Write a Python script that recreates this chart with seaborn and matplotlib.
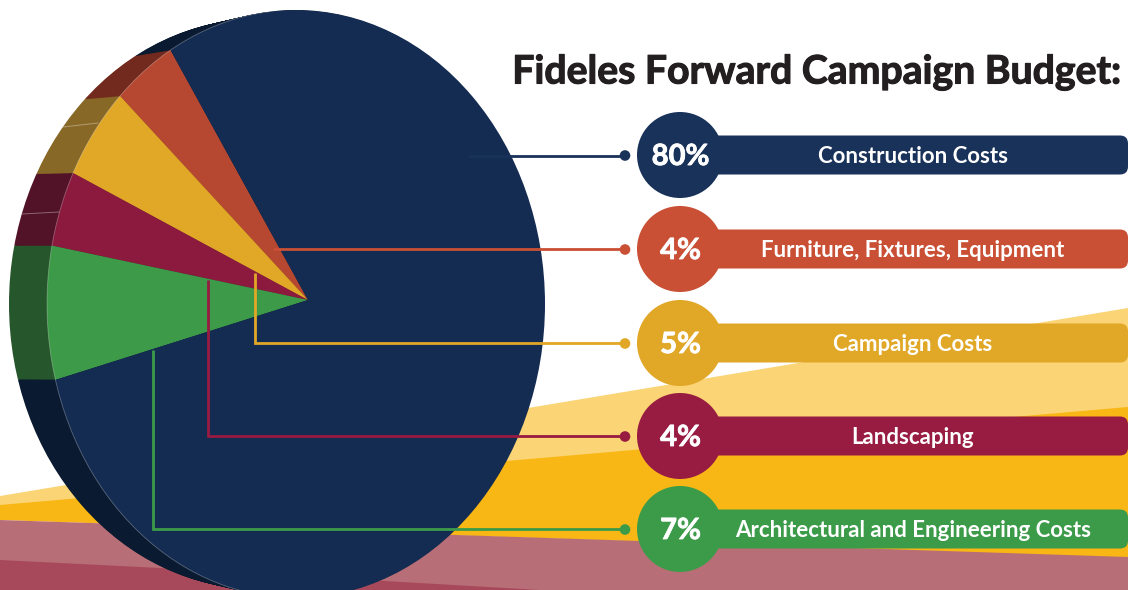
import matplotlib
matplotlib.use("Agg")
import matplotlib.pyplot as plt
import matplotlib.patheffects as pe
from matplotlib.patches import Arc, Circle, Ellipse, FancyBboxPatch
import seaborn as sns

sns.set_theme(style="white")
plt.rcParams['font.family'] = ['Lato', 'DejaVu Sans']

W, H = 1128, 590
title = "Fideles Forward Campaign Budget:"

# pie order: counter-clockwise from the upper-left edge of the red slice
pie_values = [4, 5, 4, 7, 80]
pie_colors = ["#B64831", "#E1A726", "#8B1A3E", "#3D9A48", "#152C52"]
side_colors = ["#722A1E", "#876826", "#521227", "#26562B", "#0A1A30"]

# legend order, top to bottom
legend_labels = ["Construction Costs", "Furniture, Fixtures, Equipment", "Campaign Costs",
                 "Landscaping", "Architectural and Engineering Costs"]
legend_values = [80, 4, 5, 4, 7]
legend_colors = ["#19325A", "#C94F35", "#E1A726", "#981B42", "#3C9B49"]
legend_y = [155, 249, 343, 436, 529]

# ellipse geometry of the pie in pixels
cx, cy, rx, ry = 296, 304, 249, 294
apex_x, apex_y = 308, 300
depth = 38
back_shrink = 9

fig = plt.figure(figsize=(W / 100, H / 100), dpi=100, facecolor="white")

# background bands
bg = fig.add_axes([0, 0, 1, 1], zorder=0)
bg.set_xlim(0, W); bg.set_ylim(H, 0); bg.axis("off")
bg.fill([0, W, W, 0], [496, 308, 408, 506], color="#FBD475", lw=0)
bg.fill([0, W, W, 0], [505, 407, 558, 520], color="#F9B715", lw=0)
bg.fill([0, W, W, 0], [520, 557, H, H], color="#B86E76", lw=0)
bg.fill([0, 160, 540, 0], [560, 568, H, H], color="#A7495A", lw=0)

# pie axes: data units are ellipse radii
ax = fig.add_axes([0, 0, 1, 1], zorder=1)
xlim = ((0 - cx) / rx, (W - cx) / rx)
ylim = ((cy - H) / ry, (cy - 0) / ry)


def draw_pie(shift, colors):
    wedges, _ = ax.pie(pie_values, colors=colors, startangle=123, counterclock=True,
                       radius=1.6, center=((apex_x - cx - shift) / rx, (cy - apex_y) / ry),
                       wedgeprops={"linewidth": 0})
    ry_s = ry - back_shrink * shift / depth
    clip = Ellipse((-shift / rx, 0), 2, 2 * ry_s / ry, transform=ax.transData)
    for w in wedges:
        w.set_clip_on(True)
        w.set_clip_path(clip)


for s in range(depth, 0, -1):
    draw_pie(s, side_colors)
draw_pie(0, pie_colors)
ax.add_patch(Arc((0, 0), 2, 2, theta1=95, theta2=262, ec="#FFFFFF", alpha=0.3, lw=0.6))
ax.set_aspect("auto")
ax.set_xlim(*xlim); ax.set_ylim(*ylim)
ax.axis("off")

# overlay in pixels
top = fig.add_axes([0, 0, 1, 1], zorder=2)
top.set_xlim(0, W); top.set_ylim(H, 0); top.axis("off")
top.patch.set_alpha(0)

# seams on the side band
top.plot([63, 98], [127, 123], color="white", alpha=0.35, lw=0.7)
top.plot([22, 59], [214, 212], color="white", alpha=0.35, lw=0.7)

lw = 2.8 * 0.72
line_x = [[468, 625], [273, 625], [255, 255, 625], [208, 208, 625], [153, 153, 625]]
line_y = [[156, 156], [249, 249], [273, 343, 343], [280, 436, 436], [350, 529, 529]]

for xs, ys, col in zip(line_x, line_y, legend_colors):
    top.plot(xs, ys, color=col, lw=lw, solid_joinstyle="miter", solid_capstyle="butt")

white_stroke = [pe.withStroke(linewidth=0.6, foreground="white")]
for y, v, lab, col in zip(legend_y, legend_values, legend_labels, legend_colors):
    top.add_patch(Circle((625, y + 0.5), 5.3, color=col, lw=0))
    top.add_patch(FancyBboxPatch((700, y - 19.5), 428, 39,
                                 boxstyle="round,pad=0,rounding_size=8",
                                 fc=col, ec="none", lw=0))
    top.add_patch(Circle((680, y), 43, color=col, lw=0))
    top.text(680.5, y + 2, f"{v}%", color="white", ha="center", va="center",
             weight="bold", fontsize=21, path_effects=white_stroke)
    top.text(913, y + 1.5, lab, color="white", ha="center", va="center",
             weight="bold", fontsize=16)

top.text(816.5, 72, title, color="#231F20", ha="center", va="center",
         weight="bold", fontsize=28.2,
         path_effects=[pe.withStroke(linewidth=0.8, foreground="#231F20")])

fig.savefig("out.png", dpi=100)
